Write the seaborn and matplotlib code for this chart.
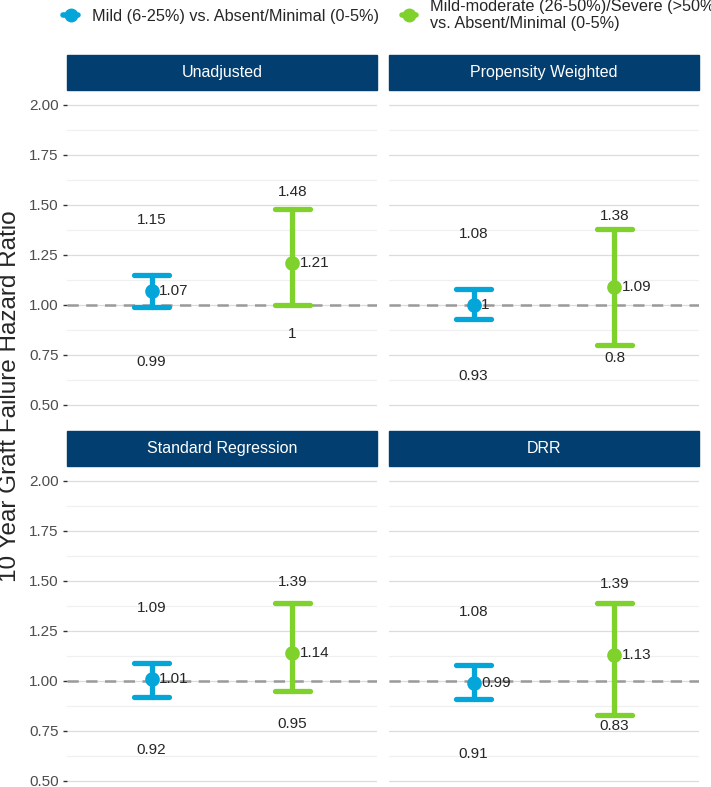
import pandas as pd
import seaborn as sns
import matplotlib.pyplot as plt
from matplotlib.lines import Line2D
from matplotlib.patches import Rectangle

# Hazard ratios + 95% CI
methods = ["Unadjusted", "Propensity Weighted", "Standard Regression", "DRR"]
comparisons = ["Mild (6-25%) vs. Absent/Minimal (0-5%)",
               "Mild-moderate (26-50%)/Severe (>50%)\nvs. Absent/Minimal (0-5%)"]
hr_mild = [1.07, 1.00, 1.01, 0.99]
lo_mild = [0.99, 0.93, 0.92, 0.91]
hi_mild = [1.15, 1.08, 1.09, 1.08]
hr_sev = [1.21, 1.09, 1.14, 1.13]
lo_sev = [1.00, 0.80, 0.95, 0.83]
hi_sev = [1.48, 1.38, 1.39, 1.39]
y_ticks = [0.50, 0.75, 1.00, 1.25, 1.50, 1.75, 2.00]

colors = ["#04A6DA", "#7FD12B"]
strip_col = "#023F70"

sns.set_style("white")
plt.rcParams['font.family'] = ['Liberation Sans', 'DejaVu Sans']

# long table: lower / estimate / upper per comparison, estimate = median of the three
rows = []
for m, method in enumerate(methods):
    for c, (hr, lo, hi) in enumerate([(hr_mild, lo_mild, hi_mild), (hr_sev, lo_sev, hi_sev)]):
        for v in (lo[m], hr[m], hi[m]):
            rows.append({"method": method, "comp": comparisons[c], "value": v})
df = pd.DataFrame(rows)

fig = plt.figure(figsize=(7.11, 7.87), dpi=100)
W, H = 711, 787
lefts = [67, 389, 67, 389]
tops = [90, 90, 466, 466]
pw, ph = 310, 330
strip_h = 35

for k, method in enumerate(methods):
    ax = fig.add_axes([lefts[k] / W, 1 - (tops[k] + ph) / H, pw / W, ph / H])
    d = df[df["method"] == method]
    sns.pointplot(data=d, x="comp", y="value", hue="comp", order=comparisons,
                  hue_order=comparisons, palette=colors, estimator="median",
                  errorbar=lambda v: (v.min(), v.max()), capsize=0.25,
                  linestyle="none", markers="o", markersize=8.5,
                  err_kws={"linewidth": 3.8}, legend=False, ax=ax, zorder=3)
    ax.axhline(1, color="#9A9A9A", ls=(0, (4.5, 3)), lw=1.8, zorder=1.5)

    ests = [hr_mild[k], hr_sev[k]]
    los = [lo_mild[k], lo_sev[k]]
    his = [hi_mild[k], hi_sev[k]]
    for i in range(2):
        ax.text(i, ests[i] + 0.355, f"{his[i]:g}", ha="center", va="center", fontsize=11)
        ax.text(i, ests[i] - 0.355, f"{los[i]:g}", ha="center", va="center", fontsize=11)
        ax.text(i + 0.055, ests[i], f"{ests[i]:g}", ha="left", va="center", fontsize=11, zorder=4)

    ax.set_xlim(-0.6, 1.6)
    ax.set_ylim(0.425, 2.075)
    ax.set_yticks(y_ticks)
    ax.set_yticks([0.625, 0.875, 1.125, 1.375, 1.625, 1.875], minor=True)
    ax.set_xticks([])
    ax.set_xlabel("")
    ax.set_ylabel("")
    ax.grid(axis="y", which="major", color="#DCDCDC", lw=0.9)
    ax.grid(axis="y", which="minor", color="#F0F0F0", lw=0.9)
    ax.grid(axis="x", visible=False)
    ax.set_axisbelow(True)
    sns.despine(ax=ax, left=True, bottom=True)
    if k % 2 == 0:
        ax.set_yticklabels([f"{t:.2f}" for t in y_ticks])
        ax.tick_params(axis="y", which="major", length=3, width=1, color="#333333",
                       labelsize=11, labelcolor="#4D4D4D", pad=3, left=True)
    else:
        ax.set_yticklabels([])
        ax.tick_params(axis="y", length=0)
    ax.tick_params(axis="y", which="minor", length=0)

    # facet strip
    ax.add_patch(Rectangle((0, 1), 1, strip_h / ph, transform=ax.transAxes,
                           color=strip_col, clip_on=False))
    ax.text(0.5, 1 + strip_h / ph / 2, method, transform=ax.transAxes, ha="center",
            va="center", color="white", fontsize=11.5)

fig.text(0.0145, 1 - 396 / H, "10 Year Graft Failure Hazard Ratio", rotation=90,
         ha="center", va="center", fontsize=17.5)

handles = [Line2D([0], [0], color=c, marker="o", markersize=9, lw=4) for c in colors]
leg = fig.legend(handles, comparisons, loc="upper left", bbox_to_anchor=(0.08, 1.009),
                 ncol=2, frameon=False, fontsize=11.7, handlelength=0.9,
                 handletextpad=0.85, columnspacing=1.4, borderaxespad=0)
for t in leg.get_texts():
    t.set_linespacing(1.1)

plt.savefig("out.png", dpi=100)
